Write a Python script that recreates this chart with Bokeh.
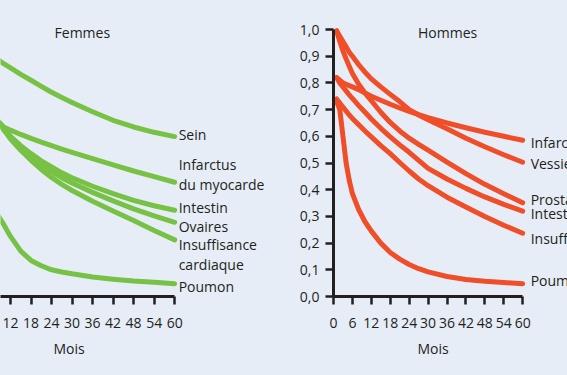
from bokeh.plotting import figure
from bokeh.layouts import row
from bokeh.models import ColumnDataSource, LabelSet, Label, FixedTicker, GlobalInlineStyleSheet, Title
from bokeh.core.properties import value
from bokeh.embed import file_html
from bokeh.resources import INLINE

# ---------------- data ----------------
months = [1, 2, 3, 4, 5, 6, 8, 10, 12, 15, 18, 21, 24, 27, 30, 36, 42, 48, 54, 60]

# Femmes
f_names = ["Sein", "Infarctus\ndu myocarde", "Intestin", "Ovaires", "Insuffisance\ncardiaque", "Poumon"]
f_sein = [0.99, 0.98, 0.97, 0.958, 0.945, 0.93, 0.89, 0.872, 0.856, 0.832, 0.81, 0.787, 0.765, 0.745, 0.727, 0.692, 0.66, 0.635, 0.615, 0.599]
f_infarctus = [0.78, 0.76, 0.745, 0.728, 0.712, 0.695, 0.662, 0.635, 0.623, 0.607, 0.592, 0.578, 0.565, 0.552, 0.54, 0.516, 0.493, 0.47, 0.449, 0.428]
f_intestin = [0.84, 0.80, 0.77, 0.745, 0.725, 0.705, 0.66, 0.628, 0.60, 0.565, 0.535, 0.508, 0.485, 0.463, 0.445, 0.413, 0.385, 0.36, 0.34, 0.323]
f_ovaires = [0.92, 0.88, 0.84, 0.80, 0.76, 0.725, 0.665, 0.625, 0.595, 0.555, 0.522, 0.493, 0.468, 0.445, 0.425, 0.39, 0.358, 0.328, 0.302, 0.278]
f_insuffisance = [0.80, 0.78, 0.76, 0.74, 0.72, 0.70, 0.66, 0.625, 0.59, 0.548, 0.51, 0.476, 0.446, 0.42, 0.397, 0.357, 0.32, 0.285, 0.247, 0.212]
f_poumon = [0.68, 0.60, 0.50, 0.43, 0.39, 0.36, 0.31, 0.27, 0.225, 0.17, 0.135, 0.115, 0.10, 0.092, 0.085, 0.073, 0.065, 0.058, 0.053, 0.048]
f_label_shift = [2, 8, 3, -4, -15, -3]   # px, vertical shift of each end label

# Hommes
h_names = ["Infarctus", "Vessie", "Prostate", "Intestin", "Insuffisance", "Poumon"]
h_infarctus = [0.82, 0.81, 0.80, 0.795, 0.79, 0.785, 0.775, 0.762, 0.75, 0.735, 0.72, 0.706, 0.693, 0.681, 0.67, 0.65, 0.632, 0.615, 0.60, 0.585]
h_vessie = [0.995, 0.975, 0.955, 0.935, 0.915, 0.90, 0.868, 0.84, 0.815, 0.785, 0.757, 0.73, 0.70, 0.68, 0.662, 0.628, 0.593, 0.561, 0.531, 0.503]
h_prostate = [0.995, 0.955, 0.92, 0.89, 0.862, 0.835, 0.795, 0.762, 0.733, 0.69, 0.652, 0.62, 0.593, 0.57, 0.548, 0.503, 0.46, 0.42, 0.385, 0.351]
h_intestin = [0.82, 0.80, 0.785, 0.77, 0.755, 0.742, 0.715, 0.69, 0.665, 0.63, 0.598, 0.568, 0.54, 0.51, 0.48, 0.44, 0.405, 0.373, 0.345, 0.32]
h_insuffisance = [0.74, 0.725, 0.71, 0.695, 0.68, 0.667, 0.643, 0.62, 0.598, 0.565, 0.535, 0.502, 0.47, 0.44, 0.415, 0.372, 0.335, 0.30, 0.267, 0.237]
h_poumon = [0.73, 0.70, 0.60, 0.50, 0.435, 0.385, 0.325, 0.28, 0.245, 0.20, 0.165, 0.14, 0.12, 0.104, 0.092, 0.075, 0.064, 0.057, 0.052, 0.048]
h_label_shift = [-2, -1, 3, -2, -5, 3]

x_ticks = [0, 6, 12, 18, 24, 30, 36, 42, 48, 54, 60]
x_tick_labels = ["0", "6", "12", "18", "24", "30", "36", "42", "48", "54", "60"]
y_ticks = [0.0, 0.1, 0.2, 0.3, 0.4, 0.5, 0.6, 0.7, 0.8, 0.9, 1.0]
y_tick_labels = ["0,0", "0,1", "0,2", "0,3", "0,4", "0,5", "0,6", "0,7", "0,8", "0,9", "1,0"]

# ---------------- style ----------------
BG = "#e6edf7"
INK = "#231f20"
GREEN = "#77c244"
RED = "#f04e28"
FONT = "Open Sans"


def style_axis(ax, bounds, ticks, labels):
    ax.bounds = bounds
    ax.ticker = FixedTicker(ticks=ticks)
    ax.major_label_overrides = {t: l for t, l in zip(ticks, labels)}
    ax.axis_line_width = 3
    ax.axis_line_color = INK
    ax.major_tick_line_width = 2.5
    ax.major_tick_line_color = INK
    ax.major_tick_out = 8
    ax.major_tick_in = 0
    ax.minor_tick_out = 0
    ax.minor_tick_in = 0
    ax.major_label_text_font = FONT
    ax.major_label_text_font_size = "14px"
    ax.major_label_text_color = INK


def panel(width, x_range, borders, series, color, names, shifts, title, title_xy, label_dx, mois_offset, show_y):
    left, right, top, bottom = borders
    p = figure(width=width, height=375, x_range=x_range, y_range=(0, 1.03),
               output_backend="svg", toolbar_location=None,
               y_axis_location="left" if show_y else None,
               min_border_left=left, min_border_right=right,
               min_border_top=top, min_border_bottom=bottom)
    p.background_fill_color = BG
    p.border_fill_color = BG
    p.outline_line_color = None
    p.xgrid.visible = False
    p.ygrid.visible = False
    style_axis(p.xaxis[0], (0, 60), x_ticks, x_tick_labels)
    p.xaxis.major_label_standoff = 13
    if show_y:
        style_axis(p.yaxis[0], (0, 1), y_ticks, y_tick_labels)
        p.yaxis.major_label_standoff = 6

    for s in series:
        p.line(months, s, line_width=5, line_color=color, line_cap="round", line_join="round")

    src = ColumnDataSource(dict(x=[months[-1]] * len(series), y=[s[-1] for s in series],
                                text=names, dy=shifts))
    p.add_layout(LabelSet(x="x", y="y", text="text", source=src, x_offset=label_dx, y_offset="dy",
                          text_font=value(FONT), text_font_size=value("14px"), text_color=INK,
                          text_baseline="middle", text_align="left", text_line_height=1.05))
    p.add_layout(Label(x=title_xy[0], y=title_xy[1], text=title, text_font=FONT, text_font_size="14px",
                       text_color=INK, text_align="center", text_baseline="middle"))
    p.add_layout(Title(text="Mois", align="left", offset=mois_offset, standoff=13,
                       text_font=FONT, text_font_size="14px", text_font_style="normal",
                       text_color=INK), "below")
    return p


left = panel(285, (9.076, 92.41), (0, 0, 21, 76),
             [f_sein, f_infarctus, f_intestin, f_ovaires, f_insuffisance, f_poumon],
             GREEN, f_names, f_label_shift, "Femmes", (33, 0.99), 4, 53, False)
right = panel(282, (0, 74.22), (48, 0, 18, 79),
              [h_infarctus, h_vessie, h_prostate, h_intestin, h_insuffisance, h_poumon],
              RED, h_names, h_label_shift, "Hommes", (36.2, 0.99), 8, 84, True)

layout = row(left, right)
layout.stylesheets = [GlobalInlineStyleSheet(css="body { background-color: #e6edf7; }")]

open("out.html", "w").write(file_html(layout, INLINE))
